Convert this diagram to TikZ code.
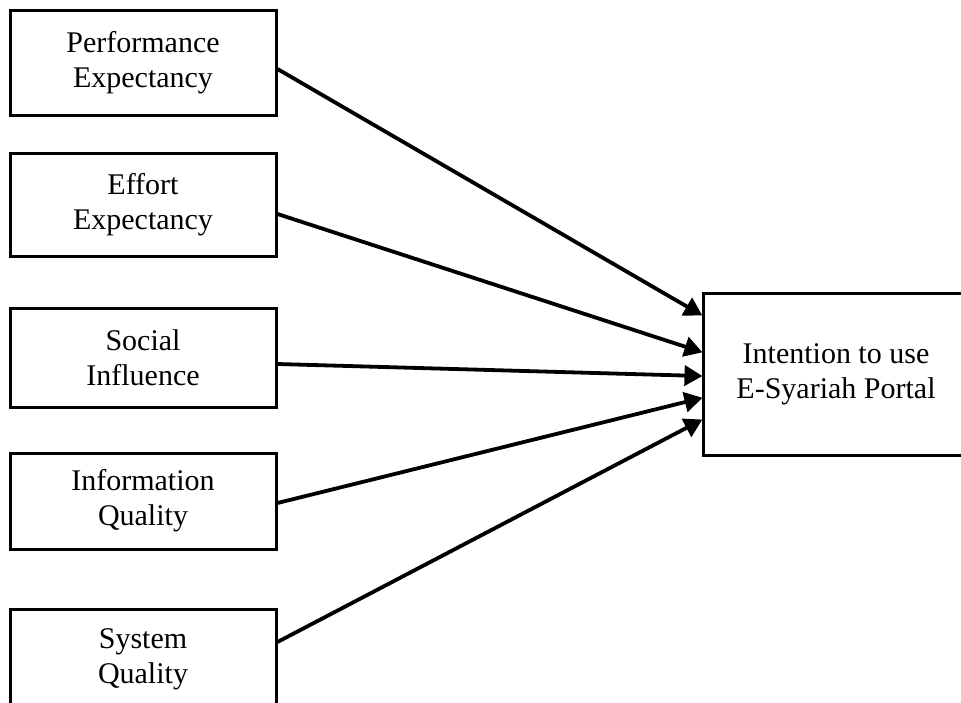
\documentclass[tikz,border=0pt]{standalone}
\usepackage{fontspec}
\setmainfont{Liberation Serif}
\usetikzlibrary{arrows.meta}
\begin{document}
\begin{tikzpicture}[x=1pt,y=-1pt,
  box/.style={draw, line width=3pt, minimum width=266pt, inner sep=0pt, align=center,
    font=\fontsize{30}{35}\selectfont},
  conn/.style={line width=3.8pt, -{Triangle[length=18pt,width=20pt]}, shorten >=-1pt}]
\useasboundingbox (0,0) rectangle (961,702);
\node[box, minimum height=105pt] (pe) at (143,62.5) {Performance\\Expectancy};
\node[box, minimum height=103pt] (ee) at (143,204.5) {Effort\\Expectancy};
\node[box, minimum height=99pt] (si) at (143,357.5) {Social\\Influence};
\node[box, minimum height=96pt] (iq) at (143,501) {Information\\Quality};
\node[box, minimum height=100pt] (sq) at (143,659) {System\\Quality};
\node[box, minimum height=162pt] (it) at (836,374) {Intention to use\\E-Syariah Portal};
\draw[conn] ([yshift=-6.5pt]pe.east) -- ([yshift=59pt]it.west);
\draw[conn] ([yshift=-9.5pt]ee.east) -- ([yshift=22pt]it.west);
\draw[conn] ([yshift=-6.5pt]si.east) -- ([yshift=-2pt]it.west);
\draw[conn] ([yshift=-2pt]iq.east) -- ([yshift=-24pt]it.west);
\draw[conn] ([yshift=17pt]sq.east) -- ([yshift=-46pt]it.west);
\end{tikzpicture}
\end{document}
